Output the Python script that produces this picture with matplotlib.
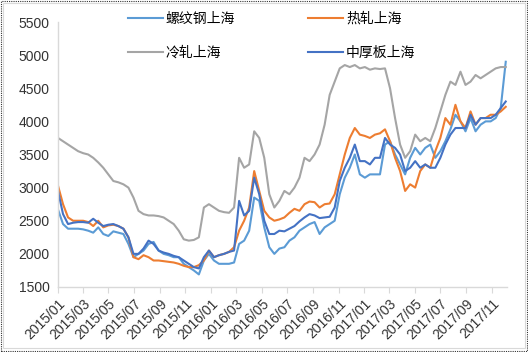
import matplotlib
matplotlib.use("Agg")
import matplotlib.pyplot as plt
import matplotlib.dates as mdates
import matplotlib.patches as mpatches
import pandas as pd

# 12-day sampling from 2015-01-01
dates = pd.date_range("2015-01-01", periods=90, freq="12D")

rebar = [2670, 2450, 2380, 2380, 2380, 2370, 2350, 2320, 2400, 2300,
         2270, 2340, 2320, 2300, 2150, 1950, 2000, 2050, 2150, 2180,
         2050, 2000, 1980, 1950, 1950, 1850, 1800, 1750, 1690, 1900,
         2000, 1900, 1850, 1850, 1850, 1870, 2150, 2200, 2350, 2850,
         2800, 2400, 2100, 2000, 2080, 2100, 2200, 2250, 2350, 2400,
         2450, 2480, 2300, 2400, 2450, 2500, 2900, 3150, 3300, 3500,
         3200, 3150, 3200, 3200, 3200, 3650, 3700, 3500, 3350, 3200,
         3450, 3600, 3500, 3600, 3650, 3450, 3550, 3700, 3880, 4100,
         4000, 3850, 4050, 3850, 3950, 4000, 4000, 4050, 4200, 4900]

hot_rolled = [3030, 2750, 2550, 2500, 2500, 2500, 2480, 2420, 2500, 2400,
              2430, 2440, 2420, 2380, 2250, 1950, 1920, 1980, 1950, 1900,
              1900, 1890, 1880, 1870, 1850, 1820, 1800, 1800, 1830, 1900,
              2050, 1950, 1980, 2000, 2030, 2100, 2350, 2500, 2700, 3250,
              2950, 2650, 2550, 2500, 2520, 2550, 2620, 2680, 2650, 2750,
              2790, 2780, 2700, 2750, 2760, 2900, 3200, 3500, 3750, 3900,
              3800, 3780, 3750, 3800, 3820, 3880, 3700, 3450, 3250, 2950,
              3050, 3000, 3250, 3350, 3300, 3550, 3750, 4050, 3950, 4250,
              4000, 3900, 4150, 3950, 4050, 4050, 4100, 4100, 4150, 4220]

cold_rolled = [3750, 3700, 3650, 3600, 3550, 3520, 3500, 3450, 3380, 3300,
               3200, 3100, 3080, 3050, 3000, 2850, 2650, 2600, 2580, 2580,
               2570, 2550, 2500, 2450, 2350, 2220, 2200, 2210, 2250, 2700,
               2750, 2700, 2650, 2630, 2620, 2700, 3450, 3300, 3350, 3850,
               3750, 3450, 2900, 2700, 2800, 2950, 2900, 3000, 3150, 3450,
               3400, 3500, 3650, 3950, 4400, 4600, 4800, 4850, 4820, 4850,
               4800, 4820, 4780, 4800, 4790, 4800, 4500, 4050, 3650, 3450,
               3550, 3800, 3700, 3750, 3700, 3900, 4150, 4400, 4600, 4550,
               4750, 4550, 4600, 4700, 4650, 4700, 4750, 4800, 4820, 4820]

plate = [2950, 2600, 2450, 2470, 2480, 2480, 2470, 2530, 2470, 2420,
         2440, 2450, 2420, 2380, 2250, 2000, 2000, 2080, 2200, 2150,
         2050, 2020, 2000, 1970, 1950, 1900, 1850, 1800, 1780, 1950,
         2050, 1950, 1980, 2000, 2030, 2050, 2800, 2580, 2650, 3150,
         2900, 2500, 2300, 2300, 2350, 2340, 2380, 2420, 2490, 2550,
         2600, 2580, 2540, 2550, 2560, 2700, 3100, 3300, 3450, 3650,
         3400, 3400, 3350, 3450, 3450, 3750, 3650, 3600, 3500, 3250,
         3300, 3400, 3300, 3350, 3300, 3300, 3450, 3650, 3800, 3900,
         3900, 3900, 4100, 3950, 4050, 4050, 4050, 4100, 4200, 4300]

names = ["螺纹钢上海", "热轧上海", "冷轧上海", "中厚板上海"]
colors = ["#5B9BD5", "#ED7D31", "#A5A5A5", "#4472C4"]
yticks = [1500, 2000, 2500, 3000, 3500, 4000, 4500, 5000, 5500]

plt.rcParams['font.family'] = ['Liberation Sans', 'Noto Sans CJK SC', 'DejaVu Sans']

fig = plt.figure(figsize=(5.28, 3.52), dpi=100)
ax = fig.add_axes([58/528, 1-287/352, (507-58)/528, (287-22)/352])

series = [rebar, hot_rolled, cold_rolled, plate]
lines = []
for vals, name, c in zip(series, names, colors):
    ln, = ax.plot(dates, vals, color=c, lw=1.5, label=name)
    lines.append(ln)

ax.set_ylim(1500, 5500)
ax.set_yticks(yticks)
ax.set_xlim(pd.Timestamp("2015-01-01"), pd.Timestamp("2017-12-07"))
ax.xaxis.set_major_locator(mdates.MonthLocator(bymonth=[1, 3, 5, 7, 9, 11]))
ax.xaxis.set_major_formatter(mdates.DateFormatter("%Y/%m"))
for lab in ax.get_xticklabels():
    lab.set_rotation(45)
    lab.set_ha("right")
    lab.set_rotation_mode("anchor")
ax.tick_params(axis='x', length=4, color="#D9D9D9", labelsize=10, pad=3, labelcolor="#333333")
ax.tick_params(axis='y', length=0, labelsize=10, pad=6, labelcolor="#333333")
for s in ["top", "right"]:
    ax.spines[s].set_visible(False)
for s in ["left", "bottom"]:
    ax.spines[s].set_color("#D9D9D9")
    ax.spines[s].set_linewidth(1.0)

order = [0, 2, 1, 3]
leg = fig.legend([lines[i] for i in order], [names[i] for i in order],
                 ncol=2, loc="upper left", bbox_to_anchor=(128/528, 1-12/352),
                 frameon=False, fontsize=10, handlelength=2.5, handletextpad=0.2,
                 columnspacing=5.3, labelspacing=1.45, borderpad=0, borderaxespad=0,
                 prop={'family': ['Noto Sans CJK SC', 'DejaVu Sans'], 'size': 10})

# chart borders
fig.patches.append(mpatches.Rectangle((1/528, 1/352), 526/528, 350/352, transform=fig.transFigure,
                                      fill=False, ls=(0, (1, 1)), lw=0.8, ec="#333333"))
fig.patches.append(mpatches.Rectangle((3/528, 4/352), 522/528, 345/352, transform=fig.transFigure,
                                      fill=False, lw=0.8, ec="#D9D9D9"))

fig.savefig("out.png", dpi=100)
